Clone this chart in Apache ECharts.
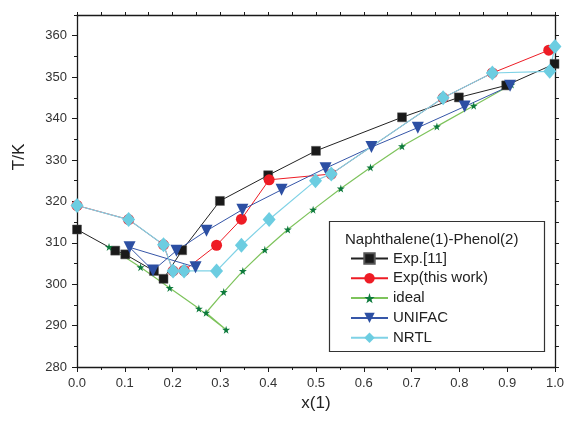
<!DOCTYPE html>
<html>
<head>
<meta charset="utf-8">
<script src="https://cdn.jsdelivr.net/npm/echarts@6/dist/echarts.min.js"></script>
<style>html,body{margin:0;padding:0;background:#fff}#c{width:567px;height:421px}</style>
</head>
<body>
<div id="c"></div>
<script>
// ---- data ----
var xExp11 = [0, 0.080, 0.101, 0.161, 0.181, 0.220, 0.299, 0.400, 0.500, 0.680, 0.799, 0.898, 0.999];
var tExp11 = [313.2, 308.1, 307.2, 303.2, 301.3, 308.2, 320.1, 326.3, 332.2, 340.3, 345.1, 348.0, 353.2];

var xExpW = [0, 0.108, 0.181, 0.201, 0.224, 0.292, 0.344, 0.402, 0.532, 0.766, 0.869, 0.987];
var tExpW = [319.0, 315.6, 309.5, 303.2, 303.3, 309.4, 315.7, 325.2, 326.6, 345.0, 351.0, 356.5];

var xIdeal = [0.067, 0.133, 0.194, 0.255, 0.312, 0.270, 0.307, 0.347, 0.393, 0.441, 0.494, 0.552, 0.614, 0.680, 0.753, 0.830, 0.909];
var tIdeal = [309.0, 304.1, 299.1, 294.1, 289.0, 293.1, 298.1, 303.2, 308.3, 313.2, 318.0, 323.1, 328.2, 333.3, 338.1, 343.1, 348.2];

var xUni = [0.248, 0.110, 0.159, 0.208, 0.271, 0.346, 0.428, 0.520, 0.616, 0.713, 0.811, 0.906];
var tUni = [304.1, 308.9, 303.3, 308.1, 312.9, 318.0, 322.8, 328.0, 333.1, 337.8, 342.9, 347.9];

var xNrtl = [0, 0.108, 0.181, 0.201, 0.224, 0.292, 0.344, 0.402, 0.499, 0.532, 0.766, 0.869, 0.989, 1.0];
var tNrtl = [319.0, 315.6, 309.5, 303.2, 303.2, 303.2, 309.4, 315.6, 325.0, 326.6, 345.0, 351.0, 351.4, 357.4];

var seriesNames = ['Exp.[11]', 'Exp(this work)', 'ideal', 'UNIFAC', 'NRTL'];
var legendTitle = 'Naphthalene(1)-Phenol(2)';
var xName = 'x(1)';
var yName = 'T/K';
var yMajorTicks = [280, 290, 300, 310, 320, 330, 340, 350, 360];

function pairs(xs, ys) { return xs.map(function (x, i) { return [x, ys[i]]; }); }

var FONT = 'Liberation Sans, Arial, sans-serif';
var STAR = 'path://M50,0 L61,35 L98,35 L68,57 L79,91 L50,70 L21,91 L32,57 L2,35 L39,35 Z';
var axisCol = '#1a1a1a';

var chart = echarts.init(document.getElementById('c'), null, { renderer: 'canvas' });

var option = {
  backgroundColor: '#fff',
  animation: false,
  textStyle: { fontFamily: FONT },
  grid: { left: 77, right: 12, top: 15, bottom: 54, containLabel: false },
  xAxis: [
    {
      type: 'value', position: 'bottom', min: 0, max: 1, interval: 0.1,
      name: xName, nameLocation: 'middle', nameGap: 24,
      nameTextStyle: { fontSize: 17, color: '#222', fontFamily: FONT },
      axisLine: { show: true, onZero: false, lineStyle: { color: axisCol, width: 1.3 } },
      axisTick: { show: true, inside: false, length: 5, lineStyle: { color: axisCol, width: 1 } },
      minorTick: { show: true, splitNumber: 2, length: 3, lineStyle: { color: axisCol, width: 1 } },
      axisLabel: { show: true, margin: 10, fontSize: 13, color: '#333', fontFamily: FONT,
        formatter: function (v) { return v.toFixed(1); } },
      splitLine: { show: false }
    },
    {
      type: 'value', position: 'top', min: 0, max: 1, interval: 0.1,
      axisLine: { show: true, onZero: false, lineStyle: { color: axisCol, width: 1.3 } },
      axisTick: { show: true, inside: false, length: 3, lineStyle: { color: axisCol, width: 1 } },
      minorTick: { show: true, splitNumber: 2, length: 3, lineStyle: { color: axisCol, width: 1 } },
      axisLabel: { show: false },
      splitLine: { show: false }
    }
  ],
  yAxis: [
    {
      type: 'value', position: 'left', min: 280, max: 365, interval: 10,
      axisLine: { show: true, onZero: false, lineStyle: { color: axisCol, width: 1.3 } },
      axisTick: { show: true, inside: false, length: 5, customValues: yMajorTicks, lineStyle: { color: axisCol, width: 1 } },
      axisLabel: { show: true, margin: 10, fontSize: 13, color: '#333', fontFamily: FONT,
        customValues: yMajorTicks,
        formatter: function (v) { return v % 10 === 0 && v <= 360 ? String(v) : ''; } },
      splitLine: { show: false }
    },
    {
      type: 'value', position: 'left', min: 280, max: 365, interval: 5,
      axisLine: { show: false },
      axisTick: { show: true, inside: false, length: 3, lineStyle: { color: axisCol, width: 1 } },
      axisLabel: { show: false },
      splitLine: { show: false }
    },
    {
      type: 'value', position: 'right', min: 280, max: 365, interval: 5,
      axisLine: { show: true, onZero: false, lineStyle: { color: axisCol, width: 1.3 } },
      axisTick: { show: true, inside: false, length: 4, lineStyle: { color: axisCol, width: 1 } },
      axisLabel: { show: false },
      splitLine: { show: false }
    }
  ],
  legend: {
    show: true, orient: 'vertical', left: 345, top: 246,
    itemWidth: 37, itemHeight: 13, itemGap: 4.8,
    textStyle: { fontSize: 15, color: '#222', fontFamily: FONT, lineHeight: 13 },
    data: seriesNames
  },
  graphic: [
    { type: 'rect', shape: { x: 329.5, y: 221.5, width: 215, height: 130 },
      style: { fill: 'rgba(255,255,255,0)', stroke: '#333', lineWidth: 1.2 }, z: 100 },
    { type: 'text', x: 345, y: 240, z: 101,
      style: { text: legendTitle, font: '15px ' + FONT, fill: '#222', textAlign: 'left', textVerticalAlign: 'middle' } },
    { type: 'text', x: 19, y: 157, rotation: Math.PI / 2, z: 101,
      style: { text: yName, font: '17px ' + FONT, fill: '#222', textAlign: 'center', textVerticalAlign: 'middle' } }
  ],
  series: [
    {
      name: seriesNames[0], type: 'line', data: pairs(xExp11, tExp11),
      symbol: 'rect', symbolSize: 9, clip: false,
      lineStyle: { color: '#222', width: 1 },
      itemStyle: { color: '#1a1a1a', borderColor: '#555', borderWidth: 0.5 }
    },
    {
      name: seriesNames[1], type: 'line', data: pairs(xExpW, tExpW),
      symbol: 'circle', symbolSize: 11, clip: false,
      lineStyle: { color: '#ee1c25', width: 1 },
      itemStyle: { color: '#ee1c25' }
    },
    {
      name: seriesNames[2], type: 'line', data: pairs(xIdeal, tIdeal),
      symbol: STAR, symbolSize: 8, clip: false,
      lineStyle: { color: '#7dc35b', width: 1.2 },
      itemStyle: { color: '#0d7a3c' }
    },
    {
      name: seriesNames[3], type: 'line', data: pairs(xUni, tUni),
      symbol: 'triangle', symbolRotate: 180, symbolSize: 12, clip: false,
      lineStyle: { color: '#3656a8', width: 1 },
      itemStyle: { color: '#2c4fa3' }
    },
    {
      name: seriesNames[4], type: 'line', data: pairs(xNrtl, tNrtl),
      symbol: 'diamond', symbolSize: [13, 15], clip: false,
      lineStyle: { color: '#7fd2e6', width: 1.2 },
      itemStyle: { color: '#6ccde1' }
    }
  ]
};
chart.setOption(option);
</script>
</body>
</html>
